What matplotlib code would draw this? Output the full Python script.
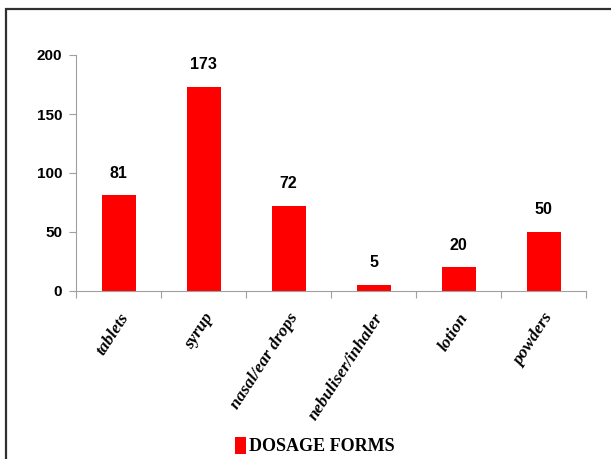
import matplotlib
matplotlib.use("Agg")
import matplotlib.pyplot as plt
from matplotlib.patches import Rectangle
import numpy as np

categories = ["tablets", "syrup", "nasal/ear drops", "nebuliser/inhaler", "lotion", "powders"]
counts = [81, 173, 72, 5, 20, 50]
yticks = [0, 50, 100, 150, 200]

W, H = 611, 459
fig = plt.figure(figsize=(W / 100, H / 100), dpi=100)
# axes box in pixels: x 76..586, y 55..291
ax = fig.add_axes([76 / W, 1 - 291 / H, 510 / W, 236 / H])

x = np.arange(len(categories))
bars = ax.bar(x, counts, width=0.40, color="#ff0000", label="DOSAGE FORMS")

ax.set_xlim(-0.5, len(categories) - 0.5)
ax.set_ylim(0, 200)
ax.set_yticks(yticks)
ax.set_yticklabels([str(v) for v in yticks], fontfamily="Liberation Sans",
                   fontweight="bold", fontsize=11)

# excel style: ticks on the category boundaries
ax.set_xticks(np.arange(len(categories) + 1) - 0.5)
ax.set_xticklabels([])
ax.set_xticks(x, minor=True)
ax.set_xticklabels(categories, minor=True, rotation=57, ha="right",
                   rotation_mode="anchor", fontfamily="Liberation Serif",
                   fontstyle="italic", fontweight="bold", fontsize=12.5)
ax.tick_params(axis="x", which="minor", length=0, pad=14)
ax.tick_params(axis="x", which="major", length=5, color="#a0a0a0")
ax.tick_params(axis="y", length=5, color="#a0a0a0", pad=5)

for s in ["top", "right"]:
    ax.spines[s].set_visible(False)
ax.spines["left"].set_color("#a0a0a0")
ax.spines["bottom"].set_color("#a0a0a0")

for xi, v in zip(x, counts):
    ax.annotate(str(v), (xi, v), xytext=(0, 16), textcoords="offset points",
                ha="center", va="center", fontfamily="Liberation Sans",
                fontweight="bold", fontsize=11.5)

fig.legend(handles=[bars], labels=["DOSAGE FORMS"], loc="center",
           bbox_to_anchor=(315 / W, 1 - 446 / H), frameon=False,
           handlelength=0.6, handleheight=1.1, handletextpad=0.2,
           prop={"family": "Liberation Serif", "weight": "bold", "size": 13})

# outer chart border, runs off the right and bottom edges
fig.patches.append(Rectangle((6 / W, -0.05), 1.1, 1 - 9 / H + 0.05,
                             transform=fig.transFigure, fill=False,
                             edgecolor="#303030", linewidth=1.6))

fig.savefig("out.png", dpi=100)
